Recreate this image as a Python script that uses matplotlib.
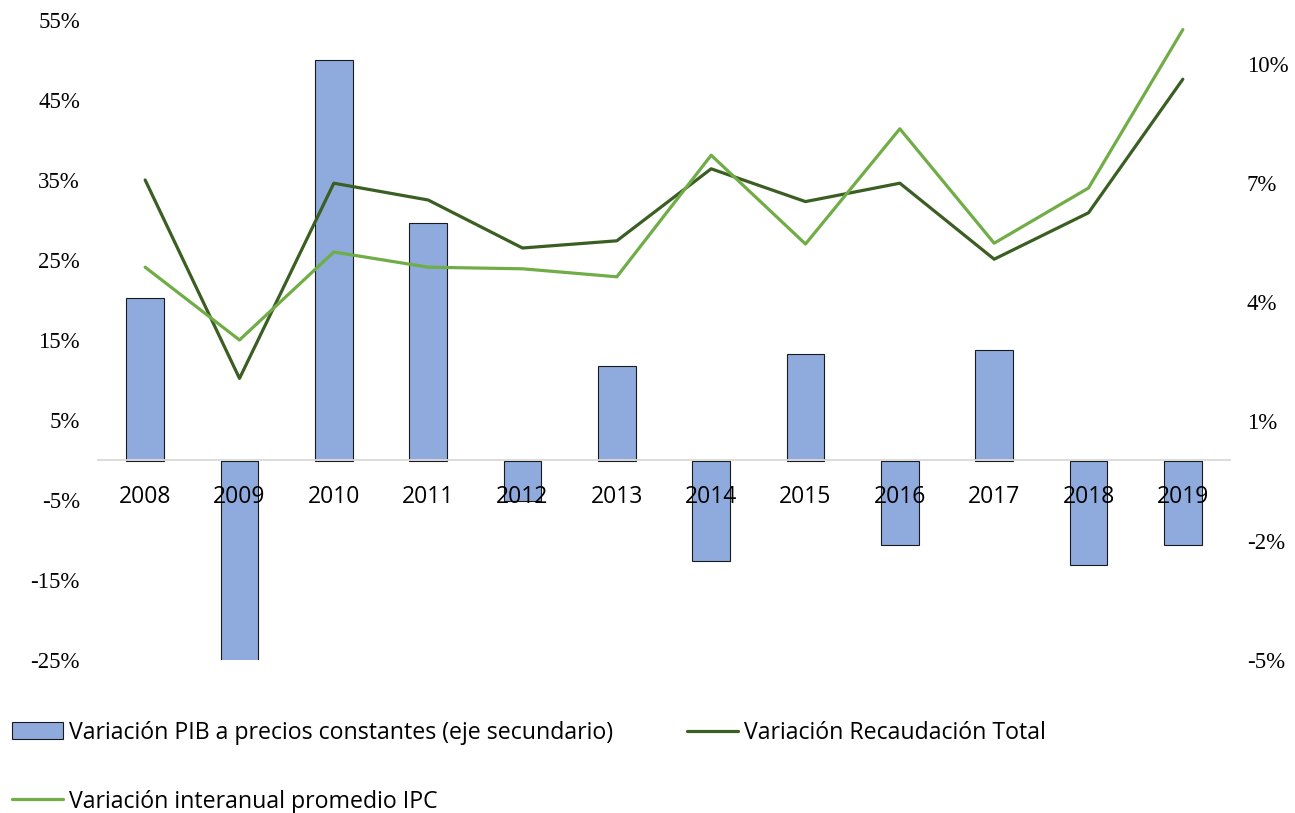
import matplotlib
matplotlib.use("Agg")
import matplotlib.pyplot as plt
from matplotlib.ticker import FuncFormatter

years = ["2008", "2009", "2010", "2011", "2012", "2013", "2014", "2015", "2016", "2017", "2018", "2019"]
pib = [4.1, -5.9, 10.1, 6.0, -1.0, 2.4, -2.5, 2.7, -2.1, 2.8, -2.6, -2.1]
recaudacion = [35.0, 10.2, 34.6, 32.5, 26.5, 27.4, 36.4, 32.3, 34.6, 25.1, 30.9, 47.6]
ipc = [24.1, 15.0, 26.0, 24.1, 23.9, 22.9, 38.1, 27.0, 41.4, 27.1, 34.0, 53.8]
left_ticks = [-25, -15, -5, 5, 15, 25, 35, 45, 55]
right_ticks = [-5, -2, 1, 4, 7, 10]

label_pib = "Variación PIB a precios constantes (eje secundario)"
label_rec = "Variación Recaudación Total"
label_ipc = "Variación interanual promedio IPC"

W, H = 1295, 813
fig = plt.figure(figsize=(W / 100, H / 100), dpi=100)
ax = fig.add_axes([98 / W, 1 - 660 / H, (1230 - 98) / W, (660 - 20) / H])
ax2 = ax.twinx()

x = list(range(len(years)))
bars = ax2.bar(x, pib, width=0.4, color="#8FAADC", edgecolor="#1a1a1a", linewidth=0.8, label=label_pib)
l_rec, = ax.plot(x, recaudacion, color="#3B5E23", linewidth=2.3, label=label_rec, solid_capstyle="round")
l_ipc, = ax.plot(x, ipc, color="#70AD47", linewidth=2.3, label=label_ipc, solid_capstyle="round")

ax.set_zorder(ax2.get_zorder() + 1)
ax.patch.set_visible(False)

ax.set_xlim(-0.5, len(years) - 0.5)
ax.set_ylim(-25, 55)
ax2.set_ylim(-5, 11.1)
ax.set_yticks(left_ticks)
ax2.set_yticks(right_ticks)
pct = FuncFormatter(lambda v, p: f"{v:.0f}%")
ax.yaxis.set_major_formatter(pct)
ax2.yaxis.set_major_formatter(pct)

serif = "Liberation Serif"
for a in (ax, ax2):
    for s in a.spines.values():
        s.set_visible(False)
    a.tick_params(axis="y", length=0, labelsize=16.5)
    for t in a.get_yticklabels():
        t.set_fontfamily(serif)
ax.tick_params(axis="y", pad=13)
ax2.tick_params(axis="y", pad=12)
ax2.set_xticks([])

ax.spines["bottom"].set_visible(True)
ax.spines["bottom"].set_position(("data", 0))
ax.spines["bottom"].set_color("#D9D9D9")
ax.spines["bottom"].set_linewidth(1.3)
ax.set_xticks(x)
ax.set_xticklabels(years, fontfamily="Open Sans", fontsize=16.5)
ax.tick_params(axis="x", length=0, pad=18)

leg = fig.legend(handles=[bars, l_ipc, l_rec], labels=[label_pib, label_ipc, label_rec],
                 ncol=2, loc="upper left", bbox_to_anchor=(12 / W, 1 - 721 / H),
                 frameon=False, prop={"family": "Open Sans", "size": 16.7},
                 handlelength=2.2, handleheight=0.75, handletextpad=0.25, labelspacing=1.92,
                 columnspacing=3.2, borderaxespad=0, borderpad=0)

fig.savefig("out.png", dpi=100)
